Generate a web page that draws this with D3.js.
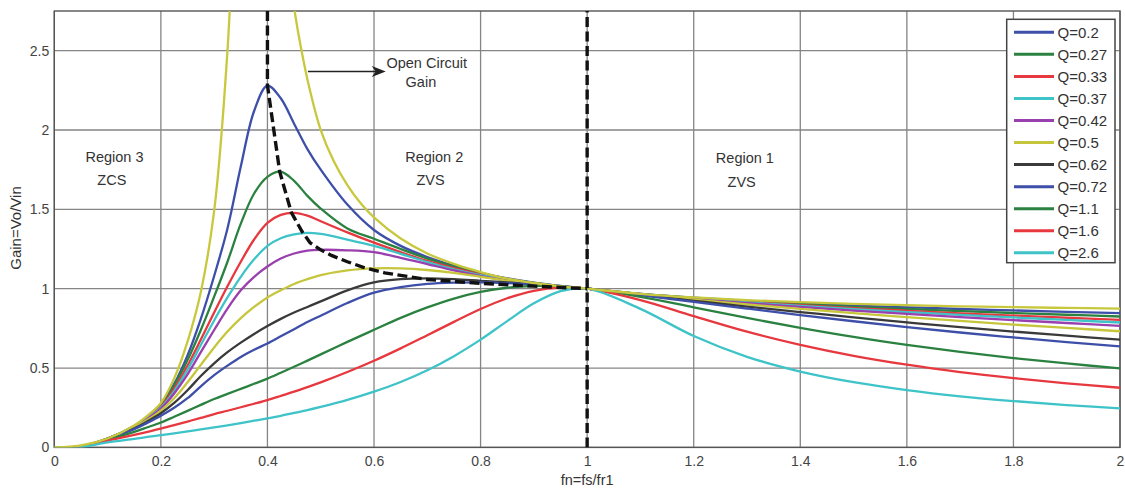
<!DOCTYPE html>
<html><head><meta charset="utf-8">
<script src="https://cdn.jsdelivr.net/npm/d3@7"></script>
<style>
html,body{margin:0;padding:0;background:#fff;}
svg{display:block;font-family:"Liberation Sans",Arial,sans-serif;}
</style></head><body>
<svg id="chart" width="1125" height="488"></svg>
<script>
// ---------- data ----------
const fn = [0,0.05,0.1,0.15,0.175,0.2,0.225,0.25,0.275,0.3,0.325,0.35,0.375,0.4,0.425,0.45,0.475,0.5,0.55,0.6,0.65,0.7,0.75,0.8,0.85,0.9,0.95,1,1.1,1.2,1.3,1.4,1.5,1.6,1.7,1.8,1.9,2];
const q020 = [0,0.006,0.056,0.135,0.194,0.27,0.4,0.58,0.81,1.08,1.38,1.77,2.12,2.28,2.2,2.04,1.88,1.75,1.53,1.37,1.27,1.2,1.145,1.1,1.065,1.038,1.017,1,0.967,0.943,0.923,0.908,0.894,0.883,0.872,0.863,0.854,0.846];
const q027 = [0,0.006,0.055,0.134,0.191,0.263,0.39,0.55,0.74,0.95,1.17,1.41,1.6,1.705,1.737,1.68,1.585,1.505,1.38,1.315,1.25,1.19,1.14,1.097,1.063,1.037,1.016,1,0.967,0.941,0.92,0.902,0.886,0.872,0.859,0.847,0.836,0.825];
const q033 = [0,0.006,0.055,0.132,0.187,0.256,0.37,0.515,0.68,0.85,1.015,1.17,1.31,1.415,1.465,1.478,1.46,1.425,1.355,1.29,1.23,1.175,1.13,1.09,1.06,1.035,1.015,1,0.966,0.939,0.916,0.896,0.878,0.861,0.845,0.831,0.817,0.803];
const q037 = [0,0.006,0.055,0.131,0.184,0.251,0.355,0.49,0.645,0.8,0.945,1.075,1.185,1.27,1.318,1.342,1.352,1.345,1.31,1.27,1.22,1.168,1.122,1.085,1.057,1.033,1.015,1,0.966,0.937,0.913,0.891,0.871,0.853,0.835,0.819,0.803,0.787];
const q042 = [0,0.006,0.055,0.129,0.18,0.244,0.34,0.46,0.6,0.74,0.875,0.99,1.075,1.14,1.19,1.222,1.24,1.245,1.242,1.23,1.195,1.155,1.115,1.08,1.053,1.031,1.014,1,0.965,0.935,0.909,0.885,0.862,0.841,0.821,0.802,0.784,0.766];
const q050 = [0,0.006,0.054,0.125,0.174,0.232,0.31,0.41,0.52,0.63,0.73,0.815,0.885,0.945,0.99,1.03,1.06,1.085,1.115,1.128,1.128,1.118,1.1,1.075,1.05,1.03,1.013,1,0.964,0.931,0.901,0.873,0.846,0.821,0.797,0.774,0.753,0.732];
const q062 = [0,0.006,0.053,0.12,0.164,0.215,0.28,0.36,0.45,0.53,0.6,0.66,0.715,0.765,0.81,0.85,0.885,0.92,0.99,1.04,1.06,1.065,1.06,1.05,1.04,1.027,1.012,1,0.962,0.924,0.887,0.853,0.819,0.788,0.758,0.73,0.704,0.679];
const q072 = [0,0.006,0.052,0.115,0.156,0.2,0.25,0.31,0.385,0.455,0.515,0.57,0.615,0.655,0.7,0.745,0.79,0.83,0.91,0.975,1.01,1.03,1.038,1.04,1.035,1.025,1.012,1,0.96,0.917,0.875,0.834,0.795,0.758,0.724,0.693,0.663,0.636];
const q110 = [0,0.005,0.048,0.098,0.127,0.157,0.193,0.23,0.268,0.305,0.337,0.369,0.401,0.433,0.47,0.508,0.547,0.586,0.665,0.741,0.816,0.882,0.938,0.98,1.006,1.017,1.014,1,0.949,0.883,0.816,0.753,0.696,0.646,0.602,0.563,0.529,0.498];
const q160 = [0,0.004,0.042,0.079,0.098,0.118,0.14,0.163,0.186,0.21,0.231,0.253,0.275,0.298,0.324,0.351,0.38,0.41,0.475,0.546,0.624,0.707,0.791,0.872,0.94,0.987,1.007,1,0.928,0.827,0.729,0.646,0.577,0.521,0.475,0.437,0.404,0.376];
const q260 = [0,0.003,0.032,0.054,0.066,0.077,0.089,0.101,0.113,0.126,0.139,0.153,0.168,0.183,0.199,0.217,0.235,0.255,0.299,0.351,0.412,0.486,0.575,0.679,0.796,0.908,0.985,1,0.873,0.702,0.571,0.478,0.411,0.361,0.322,0.292,0.267,0.246];

const qLabels = ["Q=0.2","Q=0.27","Q=0.33","Q=0.37","Q=0.42","Q=0.5","Q=0.62","Q=0.72","Q=1.1","Q=1.6","Q=2.6"];
const qColors = ["#3d4fa8","#2b8240","#e6383e","#3ec3c8","#9a3fae","#c6c63c","#3a3a3a","#3d4fa8","#2b8240","#e6383e","#3ec3c8"];
const qSeries = [q020,q027,q033,q037,q042,q050,q062,q072,q110,q160,q260];

// open circuit gain (two branches around the pole at fn=0.4)
const ocLeftFn   = [0,0.05,0.1,0.15,0.175,0.2,0.225,0.25,0.275,0.3,0.325,0.335,0.345];
const ocLeftGain = [0,0.013,0.056,0.138,0.2,0.28,0.435,0.667,0.98,1.49,2.5,3.2,4.0];
const ocRightFn   = [0.43,0.44,0.451,0.464,0.48,0.5,0.525,0.55,0.575,0.6,0.65,0.7,0.75,0.8,0.85,0.9,0.95,1,1.1,1.2,1.3,1.4,1.5,1.6,1.7,1.8,1.9,2];
const ocRightGain = [3.4,3.03,2.75,2.5,2.247,2.0,1.8,1.653,1.538,1.449,1.316,1.222,1.156,1.105,1.064,1.036,1.015,1,0.968,0.945,0.928,0.915,0.904,0.896,0.889,0.884,0.879,0.875];
const ocColor = "#c8c83e";

// dashed peak locus
const locusFn   = [0.4,0.4,0.423,0.445,0.465,0.48,0.5,0.52,0.55,0.58,0.62,0.7,0.8,0.9,1.0];
const locusGain = [2.75,2.283,1.737,1.479,1.36,1.29,1.245,1.21,1.17,1.135,1.1,1.058,1.034,1.016,1.0];

const xTicks = [0,0.2,0.4,0.6,0.8,1,1.2,1.4,1.6,1.8,2];
const xTickLabels = ["0","0.2","0.4","0.6","0.8","1","1.2","1.4","1.6","1.8","2"];
const yTicks = [0,0.5,1,1.5,2,2.5];
const yTickLabels = ["0","0.5","1","1.5","2","2.5"];

// ---------- chart ----------
const svg = d3.select("#chart");
const L = 54.3, R = 1120, T = 11, B = 447.4;
const x = d3.scaleLinear().domain([0,2]).range([L,R]);
const y = d3.scaleLinear().domain([0,2.75]).range([B,T]);

svg.append("defs").append("clipPath").attr("id","plotclip")
  .append("rect").attr("x",L).attr("y",T).attr("width",R-L).attr("height",B-T);

// grid
const grid = svg.append("g");
grid.selectAll("line.gx").data(xTicks).join("line")
  .attr("x1",d=>x(d)).attr("x2",d=>x(d)).attr("y1",T).attr("y2",B)
  .attr("stroke","#858585").attr("stroke-width",1.3);
grid.selectAll("line.gy").data(yTicks).join("line")
  .attr("x1",L).attr("x2",R).attr("y1",d=>y(d)).attr("y2",d=>y(d))
  .attr("stroke","#858585").attr("stroke-width",1.3);

// axes labels
const xAxis = svg.append("g").attr("transform",`translate(0,${B})`)
  .call(d3.axisBottom(x).tickValues(xTicks).tickSize(0).tickPadding(8.5)
    .tickFormat((d,i)=>xTickLabels[i]));
const yAxis = svg.append("g").attr("transform",`translate(${L},0)`)
  .call(d3.axisLeft(y).tickValues(yTicks).tickSize(0).tickPadding(5)
    .tickFormat((d,i)=>yTickLabels[i]));
[xAxis,yAxis].forEach(a=>{
  a.select(".domain").remove();
  a.selectAll("text").attr("font-size",14).attr("fill","#444")
    .attr("font-family","'Liberation Sans',Arial,sans-serif");
});

// frame
svg.append("rect").attr("x",L).attr("y",T).attr("width",R-L).attr("height",B-T)
  .attr("fill","none").attr("stroke","#555").attr("stroke-width",1.4);

const plot = svg.append("g").attr("clip-path","url(#plotclip)");
const line = d3.line().x(d=>x(d[0])).y(d=>y(d[1])).curve(d3.curveCatmullRom.alpha(0.5));

qSeries.forEach((s,i)=>{
  plot.append("path").datum(fn.map((f,j)=>[f,s[j]]))
    .attr("d",line).attr("fill","none").attr("stroke",qColors[i])
    .attr("stroke-width",2.3).attr("stroke-linejoin","round");
});
plot.append("path").datum(ocLeftFn.map((f,j)=>[f,ocLeftGain[j]]))
  .attr("d",line).attr("fill","none").attr("stroke",ocColor).attr("stroke-width",2.3);
plot.append("path").datum(ocRightFn.map((f,j)=>[f,ocRightGain[j]]))
  .attr("d",line).attr("fill","none").attr("stroke",ocColor).attr("stroke-width",2.3);

// dashed locus & boundary at fn=1
const lin = d3.line().x(d=>x(d[0])).y(d=>y(d[1]));
plot.append("path").datum(locusFn.map((f,j)=>[f,locusGain[j]]))
  .attr("d",lin).attr("fill","none").attr("stroke","#111").attr("stroke-width",3.4)
  .attr("stroke-dasharray","10,4.5");
plot.append("path").datum([[1,0],[1,2.75]])
  .attr("d",lin).attr("fill","none").attr("stroke","#111").attr("stroke-width",3.4)
  .attr("stroke-dasharray","10,4.5");

// annotations
const txt = (fx,gy,s,size)=>svg.append("text").attr("x",x(fx)).attr("y",y(gy))
  .attr("text-anchor","middle").attr("dominant-baseline","central")
  .attr("font-size",size||14.5).attr("fill","#333").text(s);
txt(0.113,1.832,"Region 3"); txt(0.108,1.685,"ZCS");
txt(0.713,1.832,"Region 2"); txt(0.706,1.685,"ZVS");
txt(1.296,1.822,"Region 1"); txt(1.290,1.672,"ZVS");
txt(0.699,2.422,"Open Circuit"); txt(0.688,2.302,"Gain");

// arrow
const ay = y(2.369), ax0 = x(0.476), ax1 = x(0.622);
svg.append("line").attr("x1",ax0).attr("x2",ax1-8).attr("y1",ay).attr("y2",ay)
  .attr("stroke","#222").attr("stroke-width",1.4);
svg.append("path").attr("d",`M${ax1},${ay} L${ax1-14},${ay-5.5} L${ax1-10},${ay} L${ax1-14},${ay+5.5} Z`)
  .attr("fill","#222");

// axis titles
svg.append("text").attr("transform",`translate(21,228) rotate(-90)`)
  .attr("text-anchor","middle").attr("font-size",15).attr("fill","#333").text("Gain=Vo/Vin");
svg.append("text").attr("x",(L+R)/2).attr("y",485)
  .attr("text-anchor","middle").attr("font-size",14.5).attr("fill","#333").text("fn=fs/fr1");

// legend
const lg = svg.append("g");
lg.append("rect").attr("x",1006.7).attr("y",19.3).attr("width",108.3).attr("height",243.4)
  .attr("fill","#fff").attr("stroke","#444").attr("stroke-width",1.5);
qLabels.forEach((lab,i)=>{
  const yy = 32.3 + i*22.05;
  lg.append("line").attr("x1",1014).attr("x2",1054).attr("y1",yy).attr("y2",yy)
    .attr("stroke",qColors[i]).attr("stroke-width",3);
  lg.append("text").attr("x",1057.5).attr("y",yy).attr("dominant-baseline","central")
    .attr("font-size",15).attr("fill","#333").text(lab);
});
</script>
</body></html>
